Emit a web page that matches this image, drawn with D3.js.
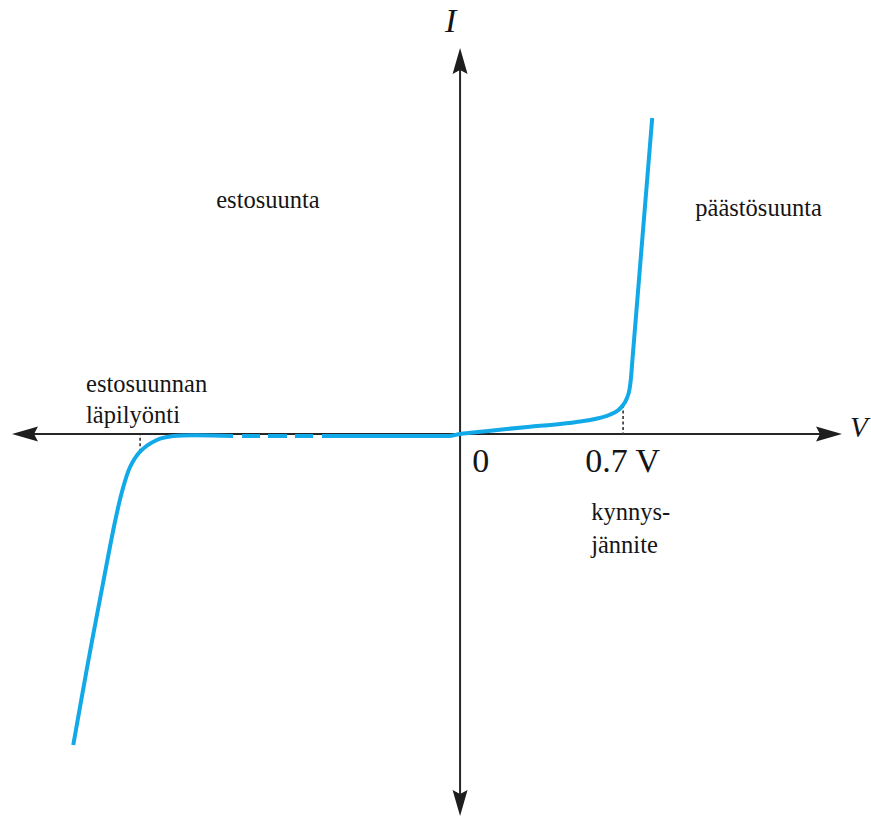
<!DOCTYPE html>
<html>
<head>
<meta charset="utf-8">
<script src="https://cdn.jsdelivr.net/npm/d3@7"></script>
<style>
  html, body { margin: 0; padding: 0; background: #fff; }
  svg { display: block; }
</style>
</head>
<body>
<script>
// ---- data (arbitrary chart units: V in volts-like units, I in current units) ----
const forwardV = [-0.593, -0.05, 0, 0.1, 0.2, 0.3, 0.4, 0.5, 0.58, 0.64, 0.68, 0.70, 0.715, 0.727, 0.733, 0.74, 0.825];
const forwardI = [-0.01, -0.01, 0.01, 0.035, 0.06, 0.083, 0.103, 0.13, 0.16, 0.20, 0.25, 0.30, 0.36, 0.45, 0.55, 0.75, 3.17];
const reverseV = [-1.661, -1.598, -1.533, -1.482, -1.452, -1.417, -1.374, -1.302, -1.231, -0.975];
const reverseI = [-3.10, -2.28, -1.48, -0.87, -0.57, -0.32, -0.167, -0.05, -0.01, -0.01];
const breakDashStart = [-0.936, -0.825, -0.709];
const breakDashEnd = [-0.859, -0.743, -0.631];
const thresholdV = 0.70, thresholdI = 0.30;
const breakdownV = -1.374, breakdownI = -0.167;
const vDomain = [-1.924, 1.64];
const iDomain = [-3.81, 3.87];
const labels = [
  {t: "estosuunta", v: -1.047, i: 2.27},
  {t: "päästösuunta", v: 1.010, i: 2.19},
  {t: "estosuunnan", v: -1.606, i: 0.43},
  {t: "läpilyönti", v: -1.606, i: 0.12},
  {t: "kynnys-", v: 0.563, i: -0.85},
  {t: "jännite", v: 0.563, i: -1.18}
];
const tickLabels = [{t: "0", v: 0.052, i: -0.37}, {t: "0.7 V", v: 0.537, i: -0.37}];

// ---- chart ----
const W = 871, H = 817;
const serif = "'Liberation Serif', 'Times New Roman', serif";
const textColor = "#151515";
const svg = d3.select("body").append("svg").attr("width", W).attr("height", H);

const x = d3.scaleLinear().domain(vDomain).range([12, 842]);
const y = d3.scaleLinear().domain(iDomain).range([816, 48]);

const axisColor = "#262626";
const blue = "#12a9e8";

// axes lines
svg.append("line").attr("x1", x(vDomain[0]) + 20).attr("x2", x(vDomain[1]) - 20)
  .attr("y1", y(0) - 1).attr("y2", y(0) - 1).attr("stroke", axisColor).attr("stroke-width", 2);
svg.append("line").attr("x1", x(0)).attr("x2", x(0))
  .attr("y1", y(iDomain[1]) + 20).attr("y2", y(iDomain[0]) - 20).attr("stroke", axisColor).attr("stroke-width", 2);

// arrowheads
const ah = 26, aw = 7.5;
function arrow(tx, ty, dx, dy) {
  const bx = tx - dx * ah, by = ty - dy * ah;
  const px = -dy * aw, py = dx * aw;
  const nx = tx - dx * (ah - 4), ny = ty - dy * (ah - 4);
  svg.append("path")
    .attr("d", `M${tx},${ty}L${bx + px},${by + py}L${nx},${ny}L${bx - px},${by - py}Z`)
    .attr("fill", "#1e1e1e");
}
arrow(x(vDomain[0]), y(0) - 1, -1, 0);
arrow(x(vDomain[1]), y(0) - 1, 1, 0);
arrow(x(0), y(iDomain[1]), 0, -1);
arrow(x(0), y(iDomain[0]), 0, 1);

// dotted guide lines
svg.append("line").attr("x1", x(thresholdV)).attr("x2", x(thresholdV))
  .attr("y1", y(thresholdI)).attr("y2", y(0))
  .attr("stroke", "#333").attr("stroke-width", 1.6).attr("stroke-dasharray", "3,2.5");
svg.append("line").attr("x1", x(breakdownV)).attr("x2", x(breakdownV))
  .attr("y1", y(breakdownI)).attr("y2", y(0))
  .attr("stroke", "#333").attr("stroke-width", 1.6).attr("stroke-dasharray", "3,2.5");

// curves
const fline = d3.line().x(d => x(d[0])).y(d => y(d[1])).curve(d3.curveMonotoneX);
const rline = d3.line().x(d => x(d[0])).y(d => y(d[1])).curve(d3.curveCatmullRom.alpha(0.5));
svg.append("path").datum(forwardV.map((v, k) => [v, forwardI[k]]))
  .attr("d", fline).attr("fill", "none").attr("stroke", blue).attr("stroke-width", 4)
  .attr("stroke-linejoin", "round");
svg.append("path").datum(reverseV.map((v, k) => [v, reverseI[k]]))
  .attr("d", rline).attr("fill", "none").attr("stroke", blue).attr("stroke-width", 4)
  .attr("stroke-linejoin", "round");
svg.selectAll("line.dash").data(breakDashStart).enter().append("line")
  .attr("class", "dash")
  .attr("x1", d => x(d)).attr("x2", (d, k) => x(breakDashEnd[k]))
  .attr("y1", y(-0.01)).attr("y2", y(-0.01))
  .attr("stroke", blue).attr("stroke-width", 4);

// labels
svg.selectAll("text.lab").data(labels).enter().append("text")
  .attr("class", "lab")
  .attr("x", d => x(d.v)).attr("y", d => y(d.i))
  .style("font", "24.5px 'Liberation Serif', serif").attr("fill", textColor)
  .text(d => d.t);
svg.selectAll("text.tick").data(tickLabels).enter().append("text")
  .attr("class", "tick")
  .attr("x", d => x(d.v)).attr("y", d => y(d.i))
  .attr("font-family", serif).attr("fill", textColor)
  .attr("font-size", 34)
  .text(d => d.t);

// axis titles
svg.append("text").attr("x", x(0) - 15).attr("y", 32)
  .attr("font-family", serif).attr("fill", textColor)
  .attr("font-size", 34).attr("font-style", "italic").text("I");
svg.append("text").attr("x", 850).attr("y", 437)
  .attr("font-family", serif).attr("fill", textColor)
  .attr("font-size", 29).attr("font-style", "italic").text("V");
</script>
</body>
</html>
